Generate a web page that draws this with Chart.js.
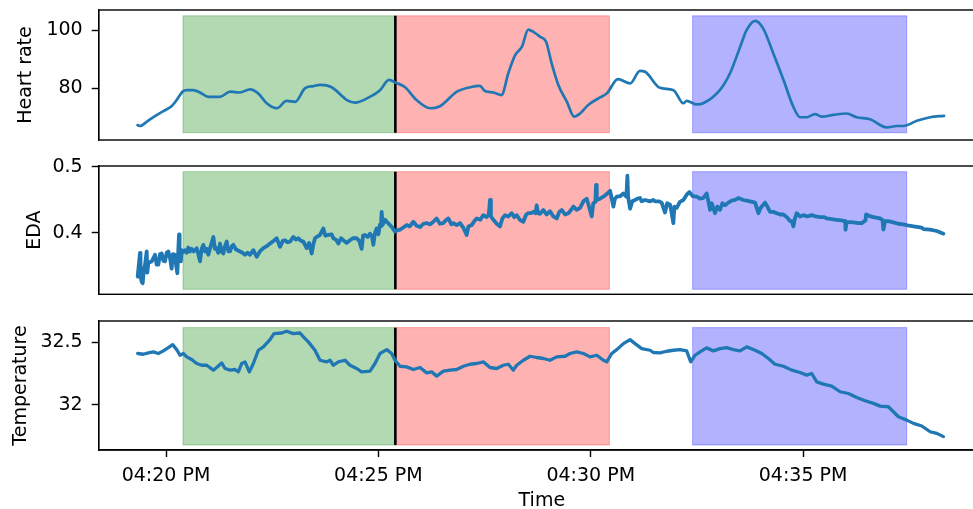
<!DOCTYPE html>
<html>
<head>
<meta charset="utf-8">
<script src="https://cdn.jsdelivr.net/npm/chart.js@4.4.1/dist/chart.umd.min.js"></script>
<style>
  html, body { margin: 0; padding: 0; background: #fff; overflow: hidden; }
  #wrap { position: relative; width: 990px; height: 512px; }
  canvas { position: absolute; left: 0; top: 0; }
</style>
</head>
<body>
<div id="wrap">
  <canvas id="c1" width="990" height="512"></canvas>
  <canvas id="c2" width="990" height="512"></canvas>
  <canvas id="c3" width="990" height="512"></canvas>
</div>
<script>
// ---------- data (time = minutes after 4:00 PM) ----------
const xTicks = [20, 25, 30, 35];
const xTickLabels = ['04:20 PM', '04:25 PM', '04:30 PM', '04:35 PM'];

const hrTicks = [80, 100];
const hrTickLabels = ['80', '100'];
const edaTicks = [0.4, 0.5];
const edaTickLabels = ['0.4', '0.5'];
const tempTicks = [32, 32.5];
const tempTickLabels = ['32', '32.5'];

const regionStart = [20.40, 25.40, 32.40];
const regionEnd = [25.40, 30.44, 37.44];
const regionNames = ['green', 'red', 'blue'];
const markerTime = 25.40;

const hrSpan = [64.8, 104.9];
const edaSpan = [0.3147, 0.4929];
const tempSpan = [31.678, 32.617];

const hrTime = [19.33,19.39,19.55,19.74,19.94,20.13,20.25,20.39,20.49,20.64,20.80,21.00,21.27,21.51,21.74,21.98,22.17,22.37,22.61,22.84,23.04,23.27,23.47,23.63,23.90,24.26,24.45,24.80,25.04,25.25,25.42,25.63,25.90,26.22,26.45,26.85,27.16,27.39,27.51,27.71,27.90,28.06,28.22,28.38,28.53,28.65,28.81,28.95,29.08,29.24,29.44,29.61,29.75,29.94,30.22,30.38,30.64,30.93,31.16,31.28,31.63,31.95,32.18,32.26,32.50,32.65,33.04,33.28,33.52,33.67,33.87,34.06,34.30,34.54,34.77,34.93,35.09,35.28,35.44,35.71,36.03,36.26,36.58,36.97,37.21,37.36,37.68,37.99,38.32];
const hrValue = [67.4,67.1,68.6,70.5,72.2,73.9,76.0,78.9,79.4,79.4,78.6,77.1,77.1,78.9,78.6,79.7,78.3,74.9,73.2,75.7,75.4,80.0,80.8,81.2,80.4,76.0,75.1,77.1,79.4,82.9,81.9,80.4,76.0,73.2,73.9,78.9,80.4,80.9,79.1,78.6,77.7,85.2,91.4,94.3,100.2,99.4,97.7,96.0,88.6,81.1,75.4,70.3,71.4,74.3,76.9,78.3,83.2,81.7,86.0,85.7,80.2,79.4,74.9,75.7,74.5,74.9,79.4,85.2,94.3,100.0,103.2,100.6,92.0,82.9,73.7,70.1,70.1,71.2,70.3,70.9,71.4,70.1,69.4,66.6,67.1,67.1,68.9,70.1,70.6];

const edaTime = [19.333,19.388,19.40,19.427,19.451,19.48,19.506,19.545,19.56,19.584,19.663,19.702,19.741,19.78,19.819,19.86,19.898,19.937,19.976,20.015,20.055,20.10,20.133,20.16,20.212,20.24,20.267,20.29,20.306,20.32,20.35,20.369,20.408,20.447,20.487,20.525,20.565,20.604,20.65,20.722,20.76,20.801,20.84,20.879,20.92,20.958,20.997,21.05,21.115,21.15,21.193,21.23,21.271,21.31,21.35,21.389,21.428,21.47,21.507,21.55,21.585,21.65,21.742,21.80,21.86,21.92,21.978,22.056,22.135,22.21,22.292,22.37,22.449,22.53,22.606,22.684,22.75,22.802,22.86,22.92,22.998,23.06,23.116,23.18,23.234,23.312,23.37,23.43,23.47,23.508,23.57,23.626,23.705,23.75,23.822,23.90,23.94,24.00,24.058,24.12,24.176,24.25,24.332,24.40,24.489,24.55,24.607,24.64,24.686,24.75,24.803,24.85,24.882,24.92,24.96,25.00,25.039,25.06,25.078,25.10,25.157,25.196,25.274,25.33,25.392,25.44,25.51,25.58,25.667,25.74,25.824,25.90,25.981,26.06,26.138,26.22,26.295,26.373,26.45,26.53,26.60,26.648,26.72,26.766,26.844,26.923,27.00,27.08,27.12,27.197,27.26,27.315,27.40,27.472,27.55,27.60,27.629,27.65,27.708,27.786,27.865,27.92,27.982,28.06,28.139,28.20,28.257,28.33,28.414,28.48,28.532,28.60,28.65,28.70,28.728,28.76,28.807,28.885,28.96,29.042,29.12,29.199,29.26,29.317,29.396,29.474,29.55,29.592,29.67,29.75,29.827,29.906,29.96,30.024,30.06,30.11,30.126,30.142,30.22,30.299,30.377,30.456,30.534,30.57,30.613,30.70,30.77,30.84,30.864,30.88,30.927,30.98,31.044,31.10,31.162,31.201,31.28,31.398,31.475,31.514,31.60,31.671,31.75,31.80,31.868,31.90,31.946,31.97,32.025,32.10,32.182,32.26,32.323,32.40,32.496,32.574,32.653,32.731,32.78,32.81,32.85,32.927,32.98,33.045,33.10,33.163,33.24,33.32,33.40,33.477,33.595,33.673,33.75,33.87,33.90,33.948,34.00,34.105,34.16,34.223,34.30,34.38,34.46,34.537,34.62,34.694,34.733,34.772,34.80,34.851,34.929,35.008,35.10,35.204,35.30,35.401,35.50,35.558,35.676,35.793,35.90,35.99,36.00,36.03,36.186,36.30,36.382,36.47,36.484,36.55,36.657,36.814,36.87,36.892,36.931,37.01,37.128,37.245,37.363,37.50,37.60,37.795,37.835,37.992,38.149,38.306];
const edaValue = [0.334,0.370,0.335,0.326,0.324,0.345,0.352,0.372,0.340,0.355,0.357,0.362,0.367,0.352,0.352,0.368,0.369,0.358,0.357,0.370,0.372,0.360,0.346,0.368,0.367,0.350,0.339,0.375,0.398,0.372,0.357,0.374,0.371,0.374,0.370,0.378,0.372,0.376,0.372,0.377,0.368,0.357,0.376,0.382,0.372,0.376,0.367,0.380,0.394,0.376,0.377,0.370,0.384,0.372,0.369,0.380,0.387,0.372,0.372,0.380,0.382,0.375,0.372,0.370,0.367,0.370,0.367,0.374,0.364,0.372,0.377,0.380,0.384,0.388,0.392,0.379,0.388,0.389,0.386,0.387,0.394,0.390,0.392,0.388,0.387,0.377,0.385,0.369,0.383,0.392,0.395,0.397,0.407,0.396,0.397,0.398,0.392,0.390,0.384,0.392,0.389,0.385,0.389,0.392,0.392,0.388,0.376,0.396,0.397,0.394,0.399,0.395,0.382,0.400,0.407,0.398,0.413,0.410,0.432,0.412,0.420,0.417,0.412,0.408,0.402,0.404,0.405,0.408,0.412,0.410,0.417,0.411,0.409,0.414,0.415,0.413,0.417,0.422,0.414,0.415,0.420,0.422,0.413,0.415,0.412,0.415,0.408,0.397,0.410,0.412,0.418,0.422,0.420,0.427,0.424,0.428,0.450,0.425,0.420,0.414,0.410,0.422,0.427,0.425,0.430,0.424,0.427,0.420,0.417,0.428,0.430,0.430,0.432,0.430,0.442,0.430,0.429,0.435,0.428,0.433,0.425,0.422,0.432,0.435,0.428,0.430,0.436,0.440,0.435,0.438,0.448,0.452,0.440,0.425,0.445,0.447,0.473,0.450,0.452,0.455,0.459,0.464,0.440,0.452,0.455,0.456,0.460,0.455,0.487,0.455,0.437,0.448,0.450,0.452,0.453,0.448,0.450,0.448,0.450,0.448,0.448,0.446,0.431,0.445,0.443,0.432,0.415,0.440,0.438,0.447,0.450,0.458,0.462,0.456,0.455,0.452,0.453,0.460,0.445,0.435,0.445,0.430,0.440,0.435,0.445,0.442,0.446,0.449,0.450,0.453,0.450,0.449,0.448,0.446,0.440,0.430,0.438,0.446,0.440,0.432,0.432,0.430,0.428,0.428,0.424,0.418,0.418,0.410,0.420,0.430,0.425,0.427,0.425,0.427,0.425,0.424,0.424,0.422,0.421,0.420,0.419,0.418,0.405,0.417,0.416,0.415,0.415,0.419,0.428,0.426,0.424,0.422,0.420,0.405,0.418,0.418,0.416,0.414,0.413,0.411,0.410,0.408,0.406,0.405,0.403,0.399];

const tempTime = [19.333,19.466,19.584,19.702,19.819,19.937,20.055,20.157,20.251,20.330,20.408,20.487,20.604,20.722,20.840,20.958,21.115,21.193,21.311,21.389,21.507,21.625,21.703,21.782,21.860,21.962,22.056,22.174,22.292,22.449,22.543,22.723,22.841,22.998,23.155,23.234,23.351,23.508,23.626,23.783,23.862,23.940,24.058,24.215,24.332,24.489,24.607,24.803,24.921,25.039,25.196,25.314,25.392,25.510,25.667,25.824,25.981,26.138,26.256,26.373,26.530,26.687,26.844,27.001,27.158,27.315,27.472,27.629,27.786,27.943,28.061,28.178,28.257,28.414,28.571,28.728,28.885,29.042,29.199,29.396,29.513,29.670,29.827,29.984,30.142,30.299,30.377,30.495,30.613,30.770,30.927,31.044,31.201,31.398,31.475,31.632,31.789,31.946,32.103,32.260,32.355,32.457,32.574,32.731,32.888,33.045,33.202,33.359,33.516,33.673,33.870,34.027,34.184,34.341,34.537,34.733,34.929,35.086,35.204,35.322,35.479,35.676,35.872,36.068,36.264,36.461,36.657,36.814,37.010,37.128,37.245,37.442,37.599,37.795,37.992,38.149,38.306];
const tempValue = [32.410,32.404,32.415,32.423,32.410,32.431,32.457,32.481,32.441,32.396,32.410,32.383,32.362,32.330,32.316,32.316,32.277,32.298,32.335,32.290,32.277,32.282,32.263,32.330,32.343,32.263,32.330,32.436,32.463,32.521,32.569,32.574,32.588,32.569,32.574,32.543,32.503,32.436,32.356,32.343,32.356,32.316,32.343,32.356,32.316,32.290,32.263,32.269,32.330,32.410,32.441,32.410,32.356,32.308,32.303,32.282,32.298,32.255,32.263,32.229,32.269,32.277,32.282,32.308,32.324,32.330,32.343,32.298,32.290,32.316,32.324,32.277,32.316,32.356,32.388,32.378,32.370,32.356,32.383,32.388,32.410,32.423,32.410,32.383,32.396,32.356,32.343,32.410,32.441,32.489,32.521,32.489,32.449,32.436,32.418,32.415,32.428,32.436,32.441,32.431,32.343,32.396,32.423,32.455,32.431,32.449,32.457,32.441,32.431,32.463,32.436,32.410,32.370,32.324,32.308,32.277,32.258,32.237,32.250,32.183,32.165,32.149,32.104,32.090,32.058,32.032,32.011,31.989,31.984,31.944,31.904,31.877,31.851,31.830,31.784,31.771,31.745];

// ---------- styling ----------
const FONT = 'DejaVu Sans';
Chart.defaults.font.family = FONT;
Chart.defaults.font.size = 19;
Chart.defaults.color = '#000';

const fillColor = { green: 'rgba(0,128,0,0.3)', red: 'rgba(255,0,0,0.3)', blue: 'rgba(0,0,255,0.3)' };

const X_MIN = 18.415, X_MAX = 39.284;
const AXIS_W = 98.7;

const spanPlugin = {
  id: 'spans',
  beforeDatasetsDraw(chart, args, opts) {
    const { ctx, chartArea: a, scales: { x, y } } = chart;
    const [lo, hi] = opts.range;
    ctx.save();
    ctx.beginPath(); ctx.rect(a.left, a.top, a.right - a.left, a.bottom - a.top); ctx.clip();
    const y0 = y.getPixelForValue(hi), y1 = y.getPixelForValue(lo);
    regionStart.forEach((s, i) => {
      const x0 = x.getPixelForValue(s), x1 = x.getPixelForValue(regionEnd[i]);
      ctx.fillStyle = fillColor[regionNames[i]];
      ctx.fillRect(x0, y0, x1 - x0, y1 - y0);
      ctx.strokeStyle = fillColor[regionNames[i]];
      ctx.lineWidth = 1;
      ctx.strokeRect(x0, y0, x1 - x0, y1 - y0);
    });
    const xm = x.getPixelForValue(markerTime);
    ctx.strokeStyle = '#000'; ctx.lineWidth = 2.6;
    ctx.beginPath(); ctx.moveTo(xm, y0); ctx.lineTo(xm, y1); ctx.stroke();
    ctx.restore();
  },
  afterDatasetsDraw(chart) {
    const { ctx, chartArea: a } = chart;
    ctx.save();
    ctx.strokeStyle = '#000'; ctx.lineWidth = 1.4;
    ctx.strokeRect(a.left, a.top, a.right - a.left, a.bottom - a.top);
    ctx.restore();
  }
};

function makeChart(id, t, v, cfg) {
  const xScale = {
    type: 'linear', min: X_MIN, max: X_MAX, display: cfg.showX,
    afterBuildTicks: s => { s.ticks = xTicks.map(val => ({ value: val })); },
    afterFit: s => { if (cfg.showX) s.height = 512 - cfg.bottom; s.paddingLeft = 0; s.paddingRight = 0; },
    ticks: { autoSkip: false, maxRotation: 0, padding: 8, color: '#000', font: { size: 19 },
      callback: (val) => xTickLabels[xTicks.indexOf(val)] },
    grid: { drawOnChartArea: false, drawTicks: true, tickLength: 7, tickColor: '#000', tickWidth: 1.4 },
    border: { display: true, color: '#000', width: 1.4 },
    title: { display: true, text: 'Time', color: '#000', font: { size: 19 }, padding: { top: 0, bottom: 0 } }
  };
  const yScale = {
    type: 'linear', min: cfg.ymin, max: cfg.ymax,
    afterBuildTicks: s => { s.ticks = cfg.ticks.map(val => ({ value: val })); },
    afterFit: s => { s.width = AXIS_W; s.paddingTop = 0; s.paddingBottom = 0; },
    ticks: { padding: 9, color: '#000', font: { size: 19 },
      callback: (val) => cfg.tickLabels[cfg.ticks.indexOf(val)] },
    grid: { drawOnChartArea: false, drawTicks: true, tickLength: 7, tickColor: '#000', tickWidth: 1.4 },
    border: { display: true, color: '#000', width: 1.4 },
    title: { display: true, text: cfg.label, color: '#000', font: { size: 19 }, padding: { top: cfg.titlePad, bottom: 0 } }
  };
  return new Chart(document.getElementById(id), {
    type: 'line',
    data: { datasets: [{ data: t.map((tt, i) => ({ x: tt, y: v[i] })), borderColor: '#1f77b4', borderWidth: cfg.lw,
      pointRadius: 0, tension: cfg.smooth ? 0.4 : 0, cubicInterpolationMode: cfg.smooth ? 'monotone' : 'default',
      fill: false, borderJoinStyle: 'round', borderCapStyle: 'round' }] },
    options: {
      responsive: false, animation: false, devicePixelRatio: 1,
      layout: { padding: { left: 0, right: 5, top: cfg.top, bottom: cfg.showX ? 0 : 512 - cfg.bottom } },
      plugins: { legend: { display: false }, tooltip: { enabled: false }, spans: { range: cfg.span } },
      scales: { x: xScale, y: yScale },
      events: []
    },
    plugins: [spanPlugin]
  });
}

makeChart('c1', hrTime, hrValue, { top: 10, bottom: 140, ymin: 62.3, ymax: 106.9, ticks: hrTicks, tickLabels: hrTickLabels,
  label: 'Heart rate', titlePad: 15, span: hrSpan, showX: false, lw: 2.7, smooth: true });
makeChart('c2', edaTime, edaValue, { top: 166, bottom: 294.3, ymin: 0.3071, ymax: 0.5015, ticks: edaTicks, tickLabels: edaTickLabels,
  label: 'EDA', titlePad: 23.7, span: edaSpan, showX: false, lw: 3.8, smooth: false });
makeChart('c3', tempTime, tempValue, { top: 321, bottom: 450, ymin: 31.638, ymax: 32.67, ticks: tempTicks, tickLabels: tempTickLabels,
  label: 'Temperature', titlePad: 9.2, span: tempSpan, showX: true, lw: 3.3, smooth: false });
</script>
</body>
</html>
